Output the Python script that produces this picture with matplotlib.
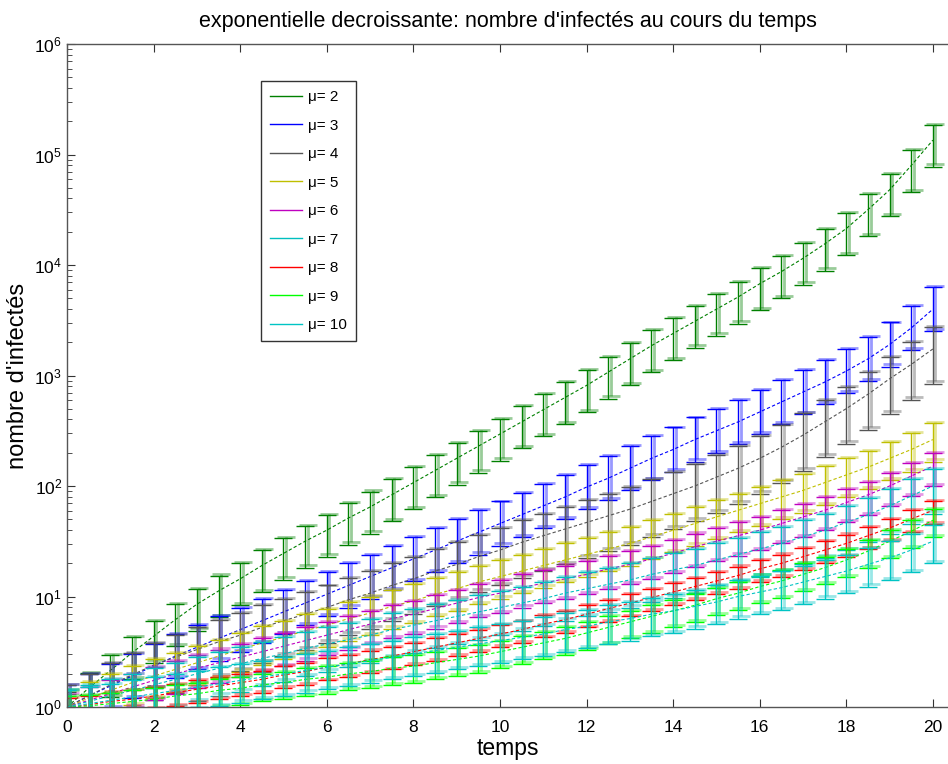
import numpy as np
import matplotlib
matplotlib.use('Agg')
import matplotlib.pyplot as plt
from matplotlib.lines import Line2D
from matplotlib.ticker import LogLocator, NullFormatter

plt.rcParams['font.family'] = ['Liberation Sans', 'DejaVu Sans']
plt.rcParams['mathtext.fontset'] = 'custom'
plt.rcParams['mathtext.rm'] = 'Liberation Sans'
plt.rcParams['mathtext.default'] = 'regular'

# temps (pas de 0.5)
temps = np.arange(0, 20.5, 0.5)

mu = [2, 3, 4, 5, 6, 7, 8, 9, 10]
couleurs = ['#008000', '#0000ff', '#555555', '#bfbf00', '#bf00bf',
            '#00bfbf', '#ff0000', '#00ff00', '#00c4c4']

# log10 du nombre moyen d'infectes
log_mu2 = [0, .17, .33, .49, .64, .79, .93, 1.05, 1.16, 1.28, 1.39, 1.5, 1.6, 1.71,
           1.81, 1.92, 2.03, 2.14, 2.25, 2.36, 2.47, 2.58, 2.69, 2.8, 2.91, 3.03,
           3.15, 3.27, 3.38, 3.49, 3.6, 3.71, 3.83, 3.94, 4.06, 4.19, 4.33, 4.5,
           4.68, 4.9, 5.13]
log_mu3 = [0, .1, .19, .28, .37, .46, .54, .62, .7, .78, .86, .94, 1.02, 1.1, 1.18,
           1.26, 1.34, 1.42, 1.5, 1.58, 1.66, 1.74, 1.82, 1.9, 1.99, 2.07, 2.16,
           2.25, 2.33, 2.42, 2.5, 2.58, 2.67, 2.76, 2.85, 2.94, 3.04, 3.15, 3.28,
           3.43, 3.6]
log_mu4 = [0, .1, .2, .29, .38, .45, .52, .59, .65, .72, .78, .84, .9, .97, 1.03,
           1.1, 1.16, 1.23, 1.29, 1.36, 1.42, 1.49, 1.55, 1.61, 1.67, 1.73, 1.79,
           1.86, 1.93, 2.0, 2.08, 2.16, 2.25, 2.35, 2.46, 2.58, 2.7, 2.83, 2.97,
           3.1, 3.24]
log_mu5 = [0, .08, .15, .22, .28, .34, .4, .46, .52, .58, .63, .69, .74, .8, .85,
           .91, .96, 1.02, 1.07, 1.13, 1.18, 1.23, 1.28, 1.33, 1.38, 1.43, 1.48,
           1.54, 1.6, 1.66, 1.72, 1.78, 1.84, 1.9, 1.96, 2.03, 2.1, 2.17, 2.25,
           2.33, 2.42]
log_mu6 = [0, .06, .12, .18, .24, .3, .35, .4, .45, .5, .55, .6, .65, .7, .75, .8,
           .84, .89, .94, .99, 1.03, 1.08, 1.12, 1.16, 1.2, 1.25, 1.29, 1.34, 1.39,
           1.45, 1.5, 1.55, 1.6, 1.66, 1.72, 1.78, 1.85, 1.92, 2.0, 2.09, 2.18]
log_mu7 = [0, .05, .1, .15, .2, .25, .3, .35, .39, .44, .48, .53, .57, .61, .65,
           .7, .74, .78, .82, .86, .9, .94, .98, 1.03, 1.07, 1.11, 1.15, 1.2, 1.24,
           1.28, 1.33, 1.38, 1.43, 1.48, 1.54, 1.6, 1.67, 1.74, 1.82, 1.91, 2.0]
log_mu8 = [0, .02, .05, .07, .1, .13, .16, .19, .22, .25, .29, .32, .36, .39, .43,
           .46, .5, .54, .58, .62, .66, .7, .75, .79, .84, .89, .94, .99, 1.04,
           1.09, 1.14, 1.19, 1.25, 1.3, 1.36, 1.42, 1.48, 1.55, 1.62, 1.7, 1.78]
log_mu9 = [0, .01, .03, .05, .07, .1, .12, .15, .17, .2, .22, .25, .27, .3, .32,
           .35, .37, .4, .43, .46, .5, .54, .58, .62, .67, .72, .77, .82, .87, .92,
           .98, 1.03, 1.09, 1.14, 1.2, 1.26, 1.33, 1.41, 1.5, 1.59, 1.69]
log_mu10 = [0, .03, .06, .09, .12, .15, .18, .21, .24, .27, .3, .33, .36, .39, .42,
            .45, .48, .51, .54, .57, .6, .63, .66, .7, .73, .77, .8, .84, .87, .91,
            .95, 1.0, 1.04, 1.08, 1.13, 1.18, 1.23, 1.29, 1.35, 1.42, 1.5]

series = [log_mu2, log_mu3, log_mu4, log_mu5, log_mu6, log_mu7, log_mu8, log_mu9, log_mu10]

# demi-barres d'erreur (en decades), vers le haut et vers le bas
err_haut = [0.14, 0.2, 0.2, 0.15, 0.12, 0.15, 0.08, 0.1, 0.15]
err_bas = [0.24, 0.2, 0.32, 0.2, 0.18, 0.25, 0.12, 0.15, 0.2]

fig = plt.figure(figsize=(9.48, 7.64), dpi=100)
ax = fig.add_axes([67 / 948, 1 - 707 / 764, 1 - 67 / 948, (707 - 44) / 764])

for k in range(len(mu)):
    y = 10 ** np.array(series[k])
    haut = y * (10 ** err_haut[k] - 1)
    bas = y * (1 - 10 ** (-err_bas[k]))
    # couche claire
    ax.errorbar(temps + 0.06, y * 1.03, yerr=[bas, haut], fmt='none', ecolor=couleurs[k],
                elinewidth=2.0, capsize=6.5, capthick=2.0, alpha=0.4)
    ax.errorbar(temps, y, yerr=[bas, haut], fmt='none', ecolor=couleurs[k],
                elinewidth=1.0, capsize=6.5, capthick=1.0)
    ax.plot(temps, y, '--', color=couleurs[k], lw=0.8, dashes=(3, 2))

ax.set_yscale('log')
ax.set_xlim(0, 20.35)
ax.set_ylim(1, 1e6)
ax.set_xticks(np.arange(0, 21, 2))
ax.set_yticks([1, 10, 100, 1e3, 1e4, 1e5, 1e6])
ax.yaxis.set_minor_locator(LogLocator(base=10, subs=np.arange(2, 10), numticks=20))
ax.yaxis.set_minor_formatter(NullFormatter())

for s in ['left', 'bottom', 'top']:
    ax.spines[s].set_color('#555555')
    ax.spines[s].set_linewidth(1.0)
ax.spines['right'].set_visible(False)
ax.tick_params(which='both', direction='in', top=True, right=False, colors='#333333',
               labelcolor='black', labelsize=12.5)
ax.tick_params(which='major', length=6)
ax.tick_params(which='minor', length=3.5)
ax.tick_params(axis='x', pad=9)

ax.set_title("exponentielle decroissante: nombre d'infectés au cours du temps",
             fontsize=15.5, pad=12)
ax.set_xlabel('temps', fontsize=16.5, labelpad=2)
ax.set_ylabel("nombre d'infectés", fontsize=17, labelpad=4)

handles = [Line2D([0], [0], color=c, lw=1.0) for c in couleurs]
labels = ['\u03bc= %d' % m for m in mu]
leg = fig.legend(handles, labels, loc='upper left', bbox_to_anchor=(261 / 948, 1 - 81 / 764),
                 fontsize=11, frameon=True, fancybox=False, edgecolor='black',
                 handlelength=2.1, labelspacing=0.95, borderpad=0.6, handletextpad=0.4,
                 borderaxespad=0)
leg.get_frame().set_linewidth(1.0)

fig.savefig('out.png', dpi=100)
